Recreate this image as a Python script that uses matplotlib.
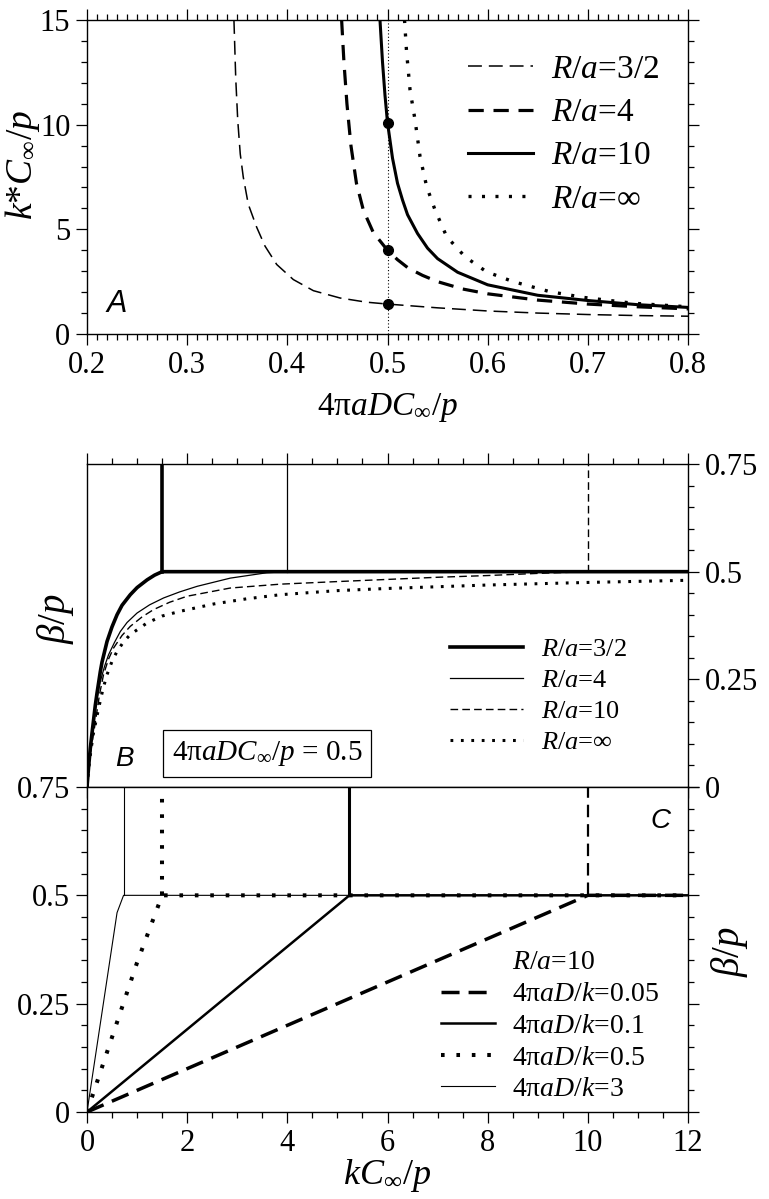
import matplotlib
matplotlib.use('Agg')
import matplotlib.pyplot as plt
from matplotlib.ticker import MultipleLocator, FuncFormatter

plt.rcParams['font.family'] = 'Liberation Serif'
plt.rcParams['mathtext.fontset'] = 'custom'
plt.rcParams['mathtext.rm'] = 'Liberation Serif'
plt.rcParams['mathtext.it'] = 'Liberation Serif:italic'
plt.rcParams['mathtext.bf'] = 'Liberation Serif:bold'
plt.rcParams['lines.scale_dashes'] = False
plt.rcParams['axes.linewidth'] = 1.0

# ---- Panel A: k*C/p vs 4 pi a D C/p ----
A_R15_X = [0.3467, 0.3485, 0.3505, 0.353, 0.356, 0.361, 0.3694, 0.3777, 0.3894, 0.406,
           0.426, 0.4526, 0.479, 0.5, 0.55, 0.6, 0.65, 0.7, 0.75, 0.8]
A_R15_Y = [15, 12.2, 10.2, 8.6, 7.5, 6.2, 5.1, 4.2, 3.32, 2.6,
           2.07, 1.72, 1.52, 1.43, 1.25, 1.10, 1.00, 0.93, 0.88, 0.85]
A_R4_X = [0.4542, 0.4565, 0.4595, 0.4635, 0.469, 0.476, 0.4858, 0.5, 0.51, 0.5207,
          0.535, 0.55, 0.575, 0.6, 0.65, 0.7, 0.75, 0.8]
A_R4_Y = [15, 13.0, 11.0, 9.0, 7.2, 5.9, 4.85, 4.0, 3.55, 3.15,
          2.8, 2.5, 2.15, 1.92, 1.62, 1.43, 1.30, 1.20]
A_R10_X = [0.4925, 0.495, 0.4975, 0.5, 0.505, 0.51, 0.515, 0.52, 0.53, 0.54,
           0.55, 0.57, 0.6, 0.65, 0.7, 0.75, 0.8]
A_R10_Y = [15, 13.0, 11.4, 10.1, 8.4, 7.2, 6.4, 5.7, 4.8, 4.1,
           3.6, 2.95, 2.35, 1.85, 1.6, 1.4, 1.27]
A_RINF_X = [0.517, 0.519, 0.5225, 0.5275, 0.5325, 0.5391, 0.5475, 0.5591, 0.5774, 0.5989,
            0.6256, 0.6622, 0.6955, 0.745, 0.8]
A_RINF_Y = [15, 13.5, 11.66, 10.22, 8.47, 7.04, 5.92, 4.65, 3.69, 2.97,
            2.50, 2.02, 1.75, 1.47, 1.30]
A_DOT_X = [0.5, 0.5, 0.5]
A_DOT_Y = [10.1, 4.0, 1.43]
A_VLINE = 0.5

# ---- Panel B: beta/p vs kC/p, 4 pi a D C/p = 0.5 ----
B_R15_X = [0, 0.033, 0.066, 0.1, 0.166, 0.2, 0.266, 0.3, 0.4, 0.5, 0.6, 0.7, 0.864,
           1.0, 1.2, 1.35, 1.5, 12]
B_R15_Y = [0, 0.048, 0.09, 0.125, 0.19, 0.218, 0.268, 0.29, 0.338, 0.372, 0.40, 0.422,
           0.4465, 0.463, 0.481, 0.492, 0.5, 0.5]
B_R4_X = [0, 0.05, 0.133, 0.2, 0.266, 0.35, 0.43, 0.55, 0.665, 0.8, 1.0, 1.25, 1.53,
          1.85, 2.2, 2.86, 3.59, 4.0, 12]
B_R4_Y = [0, 0.07, 0.152, 0.205, 0.245, 0.28, 0.307, 0.336, 0.361, 0.382, 0.404, 0.423,
          0.439, 0.453, 0.466, 0.485, 0.4975, 0.5, 12 * 0 + 0.5]
B_R10_X = [0, 0.05, 0.166, 0.25, 0.332, 0.43, 0.532, 0.7, 0.864, 1.1, 1.33, 1.65, 2.0,
           2.86, 3.86, 5.0, 6.0, 7.0, 8.0, 9.0, 10.0, 12]
B_R10_Y = [0, 0.065, 0.15, 0.215, 0.262, 0.297, 0.323, 0.352, 0.373, 0.395, 0.412, 0.429,
           0.443, 0.462, 0.471, 0.477, 0.482, 0.487, 0.491, 0.496, 0.5, 0.5]
B_RINF_X = [0, 0.05, 0.12, 0.232, 0.32, 0.4, 0.5, 0.6, 0.73, 0.864, 1.2, 1.5, 1.86, 2.53,
            3.19, 3.86, 5.0, 6.0, 8.0, 10.0, 12.0]
B_RINF_Y = [0, 0.06, 0.12, 0.183, 0.228, 0.261, 0.292, 0.315, 0.337, 0.354, 0.381, 0.397,
            0.408, 0.425, 0.437, 0.4465, 0.456, 0.461, 0.469, 0.475, 0.48]
B_VX = [1.5, 4.0, 10.0]

# ---- Panel C: R/a = 10, varying 4 pi a D / k ----
C_005_X = [0, 10.0, 12]
C_005_Y = [0, 0.5, 0.5]
C_01_X = [0, 5.24, 12]
C_01_Y = [0, 0.5, 0.5]
C_05_X = [0, 0.55, 1.0, 1.5, 12]
C_05_Y = [0, 0.19, 0.345, 0.5, 0.5]
C_3_X = [0, 0.6, 0.73, 12]
C_3_Y = [0, 0.46, 0.5, 0.5]
C_VX = [10.0, 5.24, 1.5, 0.73]

TICK_FS = 22
W, H = 769, 1199


def fig_rect(x0, y0, x1, y1):
    # pixel box (top-left origin) -> figure fraction rect
    return [x0 / W, 1 - y1 / H, (x1 - x0) / W, (y1 - y0) / H]


def style_ticks(ax):
    ax.tick_params(which='major', direction='out', length=8, width=0.9,
                   labelsize=TICK_FS, pad=4)
    ax.tick_params(which='minor', direction='out', length=4.5, width=0.9)


fig = plt.figure(figsize=(W / 100, H / 100), dpi=100)

# ================= Panel A =================
axA = fig.add_axes(fig_rect(87, 20, 688, 334))
axA.set_xlim(0.2, 0.8)
axA.set_ylim(0, 15)
axA.plot([A_VLINE, A_VLINE], [0, 15], color='black', lw=0.8, dashes=(0.8, 1.6))
axA.plot(A_R15_X, A_R15_Y, color='black', lw=1.1, dashes=(10, 5), label=r'$R$/$a$=3/2')
axA.plot(A_R4_X, A_R4_Y, color='black', lw=2.3, dashes=(11, 7), label=r'$R$/$a$=4')
axA.plot(A_R10_X, A_R10_Y, color='black', lw=2.2, label=r'$R$/$a$=10')
axA.plot(A_RINF_X, A_RINF_Y, color='black', lw=2.4, dashes=(2.2, 7.5),
         label=r'$R$/$a$=$\infty$')
axA.plot(A_DOT_X, A_DOT_Y, 'o', color='black', ms=7, zorder=5)
axA.xaxis.set_major_locator(MultipleLocator(0.1))
axA.xaxis.set_minor_locator(MultipleLocator(0.01))
axA.yaxis.set_major_locator(MultipleLocator(5))
axA.yaxis.set_minor_locator(MultipleLocator(1))
axA.tick_params(which='both', top=True, right=True)
style_ticks(axA)
axA.xaxis.set_major_formatter(FuncFormatter(lambda v, p: '%g' % round(v, 2)))
axA.legend(loc='upper left', bbox_to_anchor=(0.634, 0.89), frameon=False,
           fontsize=24, handlelength=1.95, handletextpad=0.55, labelspacing=0.38,
           borderpad=0, borderaxespad=0)
axA.text(0.033, 0.097, 'A', transform=axA.transAxes, fontsize=22, style='italic',
         family='Liberation Sans', ha='left', va='center')

# ================= Panel B =================
axB = fig.add_axes(fig_rect(87, 464, 688, 787))
axB.set_xlim(0, 12)
axB.set_ylim(0, 0.75)
axB.plot(B_RINF_X, B_RINF_Y, color='black', lw=2.2, dashes=(2, 5.5), label=r'$R$/$a$=$\infty$')
axB.plot(B_R10_X, B_R10_Y, color='black', lw=1.0, dashes=(5.5, 3), label=r'$R$/$a$=10')
axB.plot(B_R4_X, B_R4_Y, color='black', lw=0.9, label=r'$R$/$a$=4')
axB.plot(B_R15_X, B_R15_Y, color='black', lw=2.6, label=r'$R$/$a$=3/2')
axB.plot([B_VX[0], B_VX[0]], [0.5, 0.75], color='black', lw=2.6)
axB.plot([B_VX[1], B_VX[1]], [0.5, 0.75], color='black', lw=0.9)
axB.plot([B_VX[2], B_VX[2]], [0.5, 0.75], color='black', lw=1.0, dashes=(5.5, 3))
axB.xaxis.set_major_locator(MultipleLocator(2))
axB.xaxis.set_minor_locator(MultipleLocator(0.5))
axB.yaxis.set_major_locator(MultipleLocator(0.25))
axB.yaxis.set_minor_locator(MultipleLocator(0.05))
axB.tick_params(which='both', top=True, bottom=True, labelbottom=False,
                left=False, labelleft=False, right=True, labelright=True)
style_ticks(axB)
axB.yaxis.set_major_formatter(FuncFormatter(lambda v, p: '%g' % round(v, 2)))
hB, lB = axB.get_legend_handles_labels()
axB.legend(hB[::-1], lB[::-1], loc='upper left', bbox_to_anchor=(0.604, 0.462),
           frameon=False, fontsize=19, handlelength=2.75, handletextpad=0.7,
           labelspacing=0.28, borderpad=0, borderaxespad=0)
axB.text(0.047, 0.088, 'B', transform=axB.transAxes, fontsize=20, style='italic',
         family='Liberation Sans', ha='left', va='center')
axB.text(0.30, 0.104, r'4π$aDC_\infty$/$p$ = 0.5', transform=axB.transAxes,
         fontsize=21, ha='center', va='center',
         bbox=dict(boxstyle='square,pad=0.3', fc='white', ec='black', lw=0.9))

# ================= Panel C =================
axC = fig.add_axes(fig_rect(87, 787, 688, 1112))
axC.set_xlim(0, 12)
axC.set_ylim(0, 0.75)
axC.plot(C_3_X, C_3_Y, color='black', lw=0.8, label=r'4π$aD$/$k$=3')
axC.plot([C_VX[3], C_VX[3]], [0.5, 0.75], color='black', lw=0.8)
axC.plot(C_005_X, C_005_Y, color='black', lw=2.5, dashes=(13, 6.5), label=r'4π$aD$/$k$=0.05')
axC.plot([C_VX[0], C_VX[0]], [0.5, 0.75], color='black', lw=1.6, dashes=(9, 5))
axC.plot(C_01_X, C_01_Y, color='black', lw=1.8, label=r'4π$aD$/$k$=0.1')
axC.plot([C_VX[1], C_VX[1]], [0.5, 0.75], color='black', lw=2.2)
axC.plot(C_05_X, C_05_Y, color='black', lw=2.9, dashes=(2.6, 8.5), label=r'4π$aD$/$k$=0.5')
axC.plot([C_VX[2], C_VX[2]], [0.5, 0.75], color='black', lw=2.9, dashes=(2.6, 8.5))
axC.xaxis.set_major_locator(MultipleLocator(2))
axC.xaxis.set_minor_locator(MultipleLocator(0.5))
axC.yaxis.set_major_locator(MultipleLocator(0.25))
axC.yaxis.set_minor_locator(MultipleLocator(0.05))
axC.tick_params(which='both', top=False, bottom=True, left=True, right=True,
                labelleft=True, labelright=False)
style_ticks(axC)
axC.yaxis.set_major_formatter(FuncFormatter(lambda v, p: '%g' % round(v, 2)))
hC, lC = axC.get_legend_handles_labels()
order = [1, 2, 3, 0]
axC.legend([hC[i] for i in order], [lC[i] for i in order], loc='upper left',
           bbox_to_anchor=(0.589, 0.40), frameon=False, fontsize=20,
           handlelength=1.95, handletextpad=0.6, labelspacing=0.22,
           borderpad=0, borderaxespad=0)
axC.text(0.707, 0.461, r'$R$/$a$=10', transform=axC.transAxes, fontsize=20,
         ha='left', va='center')
axC.text(0.937, 0.896, 'C', transform=axC.transAxes, fontsize=20, style='italic',
         family='Liberation Sans', ha='left', va='center')

# ---- axis titles ----
fig.text(22 / W, 1 - 165 / H, r'$k$*$C_\infty$/$p$', rotation=90, fontsize=27,
         ha='center', va='center')
fig.text(387 / W, 1 - 407 / H, r'4π$aDC_\infty$/$p$', fontsize=24, ha='center', va='center')
fig.text(55 / W, 1 - 618 / H, r'$\beta$/$p$', rotation=90, fontsize=28,
         ha='center', va='center')
fig.text(729 / W, 1 - 951 / H, r'$\beta$/$p$', rotation=90, fontsize=28,
         ha='center', va='center')
fig.text(387 / W, 1 - 1175 / H, r'$kC_\infty$/$p$', fontsize=26, ha='center', va='center')

fig.savefig('out.png', dpi=100)
